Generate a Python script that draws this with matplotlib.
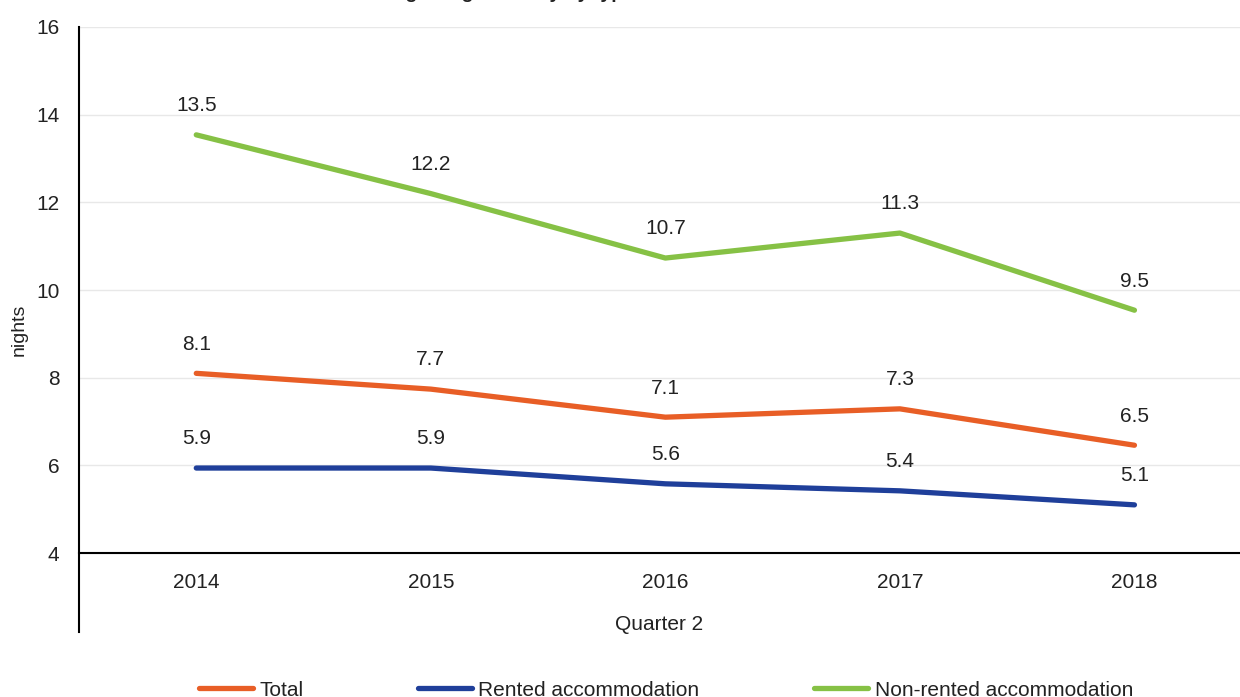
import matplotlib
matplotlib.use("Agg")
import matplotlib.pyplot as plt
import numpy as np

plt.rcParams['font.family'] = ['Liberation Sans', 'DejaVu Sans']

# Data
years = ["2014", "2015", "2016", "2017", "2018"]
total = [8.1, 7.74, 7.1, 7.29, 6.46]
rented = [5.94, 5.94, 5.58, 5.42, 5.1]
non_rented = [13.54, 12.2, 10.73, 11.3, 9.54]

series_names = ["Total", "Rented accommodation", "Non-rented accommodation"]
colors = ["#E85E26", "#1F3F9A", "#86C145"]

x = np.arange(len(years))

fig = plt.figure(figsize=(12.4, 6.97), dpi=100)
ax = fig.add_axes([79 / 1240, 1 - 632 / 697, 1 - 79 / 1240, (632 - 27) / 697])

lines = []
for vals, name, c in zip([total, rented, non_rented], series_names, colors):
    ln, = ax.plot(x, vals, color=c, lw=3.8, solid_capstyle='round', label=name, zorder=3)
    lines.append(ln)
    for xi, v in zip(x, vals):
        ax.annotate(f"{v:.1f}", (xi, v), xytext=(0, 21), textcoords='offset points',
                    ha='center', va='center', fontsize=15, color='#222222')

ax.set_xlim(-0.5, 4.45)
ax.set_ylim(2.2, 16)
ax.set_yticks(np.arange(4, 17, 2))
ax.set_xticks(x)
ax.set_xticklabels(years)
ax.tick_params(axis='both', length=0, labelsize=15, colors='#222222')
ax.tick_params(axis='x', pad=14)
ax.tick_params(axis='y', pad=14)

ax.grid(axis='y', color='#E8E8E8', lw=1)
ax.set_axisbelow(True)
for s in ['top', 'right']:
    ax.spines[s].set_visible(False)
ax.spines['bottom'].set_position(('data', 4))
ax.spines['bottom'].set_linewidth(1.5)
ax.spines['left'].set_linewidth(1.5)

ax.set_ylabel("nights", fontsize=14, color='#222222', labelpad=6)
ax.set_xlabel("Quarter 2", fontsize=15, color='#222222', labelpad=17)

# title cropped at the top edge of the image
fig.text(0.47, 1 + 2 / 697, "Average length of stay by type of accommodation",
         ha='center', va='baseline', fontsize=14, fontweight='bold', color='#222222')

fig.legend(handles=lines, loc='center', bbox_to_anchor=(0.537, 1 - 690 / 697),
           ncol=3, frameon=False, fontsize=15, handlelength=2.6, handletextpad=0.3,
           columnspacing=5.5, labelcolor='#222222')

fig.savefig("out.png", dpi=100)
